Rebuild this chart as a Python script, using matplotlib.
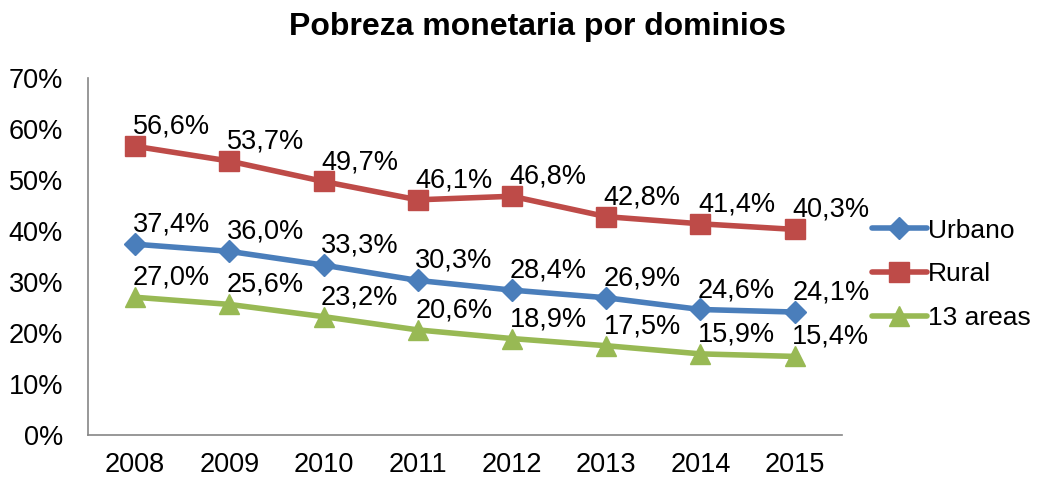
import matplotlib.pyplot as plt
from matplotlib.ticker import FuncFormatter

plt.rcParams['font.family'] = ['Liberation Sans', 'DejaVu Sans']

anios = ["2008", "2009", "2010", "2011", "2012", "2013", "2014", "2015"]
urbano = [37.4, 36.0, 33.3, 30.3, 28.4, 26.9, 24.6, 24.1]
rural = [56.6, 53.7, 49.7, 46.1, 46.8, 42.8, 41.4, 40.3]
areas13 = [27.0, 25.6, 23.2, 20.6, 18.9, 17.5, 15.9, 15.4]

series = [
    ("Urbano", urbano, "#4a7ebb", "D", 11),
    ("Rural", rural, "#be4b48", "s", 14),
    ("13 areas", areas13, "#98b954", "^", 14),
]

fig = plt.figure(figsize=(10.47, 4.78), dpi=100)
ax = fig.add_axes([0.084, 0.09, 0.72, 0.747])
x = list(range(len(anios)))

for nombre, vals, color, mk, ms in series:
    ax.plot(x, vals, color=color, lw=4, marker=mk, markersize=ms,
            markeredgecolor=color, label=nombre, solid_capstyle='round')
    for xi, v in zip(x, vals):
        etiqueta = f"{v:.1f}%".replace(".", ",")
        ax.annotate(etiqueta, (xi, v), xytext=(26, 14),
                    textcoords="offset points", ha="center", va="center",
                    fontsize=19.5)

ax.set_xlim(-0.5, len(anios) - 0.5)
ax.set_ylim(0, 70)
ax.set_yticks(range(0, 71, 10))
ax.yaxis.set_major_formatter(FuncFormatter(lambda v, p: f"{v:.0f}%"))
ax.set_xticks(x)
ax.set_xticklabels(anios)
ax.tick_params(axis='both', labelsize=19.5, length=0)
ax.tick_params(axis='y', pad=18)
ax.tick_params(axis='x', pad=12)
for s in ["top", "right"]:
    ax.spines[s].set_visible(False)
for s in ["left", "bottom"]:
    ax.spines[s].set_color("#868686")
    ax.spines[s].set_linewidth(1.2)

ax.legend(loc="center left", bbox_to_anchor=(1.015, 0.45), frameon=False,
          fontsize=19, handlelength=2.1, handletextpad=0.05, labelspacing=0.75,
          borderaxespad=0.3)
fig.suptitle("Pobreza monetaria por dominios", fontsize=23, fontweight="bold",
             x=0.513, y=0.975)

fig.savefig("out.png", dpi=100)
